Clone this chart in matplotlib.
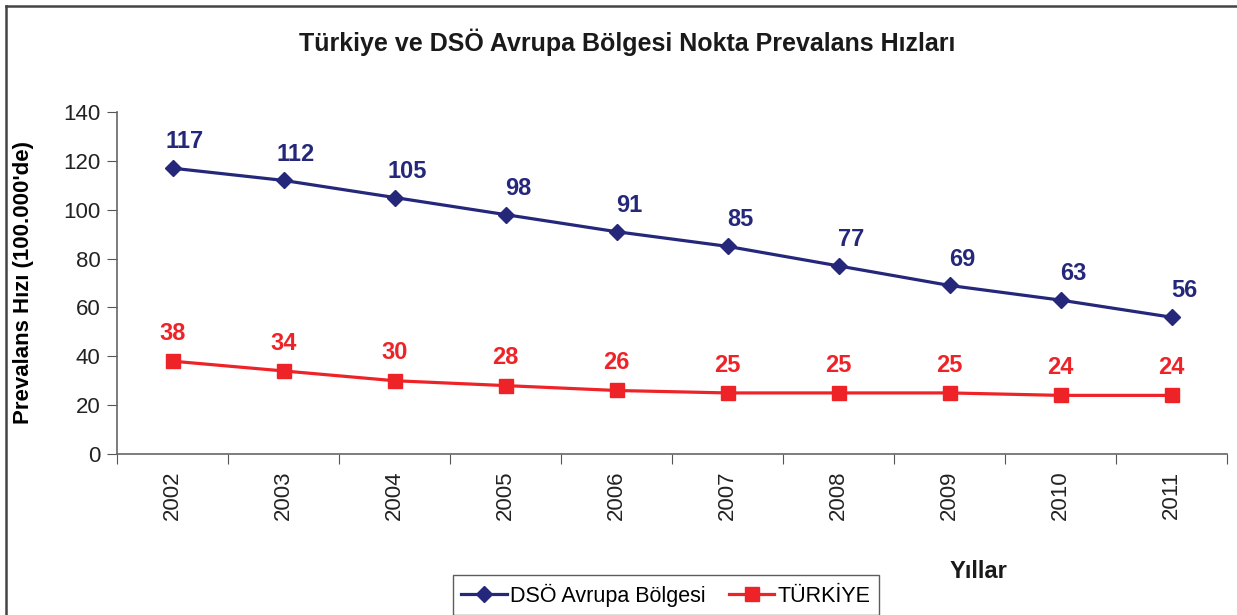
import matplotlib.pyplot as plt
from matplotlib.lines import Line2D

plt.rcParams['font.family'] = ['Liberation Sans', 'DejaVu Sans']

years = ["2002", "2003", "2004", "2005", "2006", "2007", "2008", "2009", "2010", "2011"]
dso_europe = [117, 112, 105, 98, 91, 85, 77, 69, 63, 56]
turkiye = [38, 34, 30, 28, 26, 25, 25, 25, 24, 24]

NAVY = "#25277A"
RED = "#EE2328"
W, H = 1237, 615

fig = plt.figure(figsize=(W / 100, H / 100), dpi=100)
ax = fig.add_axes([117 / W, 1 - 454 / H, 1110 / W, 342 / H])

x = list(range(len(years)))
ax.plot(x, dso_europe, color=NAVY, lw=2.3, marker="D", ms=8.5, label="DSÖ Avrupa Bölgesi")
ax.plot(x, turkiye, color=RED, lw=2.3, marker="s", ms=9.5, label="TÜRKİYE")

for xi, v in zip(x, dso_europe):
    ax.annotate(str(v), (xi, v), xytext=(9, 19), textcoords="offset points",
                ha="center", va="center", color=NAVY, fontsize=17, fontweight="bold")
for xi, v in zip(x, turkiye):
    ax.annotate(str(v), (xi, v), xytext=(0, 20), textcoords="offset points",
                ha="center", va="center", color=RED, fontsize=17, fontweight="bold")

ax.set_xlim(-0.5, len(years) - 0.5)
ax.set_ylim(0, 140)
ax.set_yticks(range(0, 141, 20))
# category boundaries carry the tick marks, labels sit at the centres
ax.set_xticks([i - 0.5 for i in range(len(years) + 1)])
ax.set_xticklabels([])
ax.set_xticks(x, minor=True)
ax.set_xticklabels(years, minor=True, rotation=90, fontsize=16, color="#222222")
ax.tick_params(axis="x", which="major", length=7, color="#555555")
ax.tick_params(axis="x", which="minor", length=0, pad=12)
ax.tick_params(axis="y", length=7, color="#555555", labelsize=16, labelcolor="#222222", pad=5)

for s in ("top", "right"):
    ax.spines[s].set_visible(False)
for s in ("left", "bottom"):
    ax.spines[s].set_color("#666666")
    ax.spines[s].set_linewidth(1.2)

ax.set_ylabel("Prevalans Hızı (100.000'de)", fontsize=16, fontweight="bold")
ax.yaxis.set_label_coords(-83 / 1110, 0.5)

fig.text(627 / W, 1 - 42 / H, "Türkiye ve DSÖ Avrupa Bölgesi Nokta Prevalans Hızları",
         ha="center", va="center", fontsize=18, fontweight="bold", color="#1a1a1a")
fig.text(978 / W, 1 - 572 / H, "Yıllar", ha="center", va="center",
         fontsize=17, fontweight="bold", color="#1a1a1a")

leg = fig.legend(loc="center", bbox_to_anchor=(666 / W, 1 - 595 / H), ncol=2,
                 fontsize=15.5, frameon=True, fancybox=False, handlelength=2.1,
                 columnspacing=1.1, borderpad=0.4, handletextpad=0.15)
leg.get_frame().set_edgecolor("#333333")
leg.get_frame().set_linewidth(1.0)

# outer frame (only left and top edges visible)
fig.add_artist(Line2D([6 / W, 6 / W], [0, 1 - 6 / H], color="#444444", lw=1.8))
fig.add_artist(Line2D([6 / W, 1], [1 - 6 / H, 1 - 6 / H], color="#444444", lw=1.8))

fig.savefig("out.png", dpi=100)
